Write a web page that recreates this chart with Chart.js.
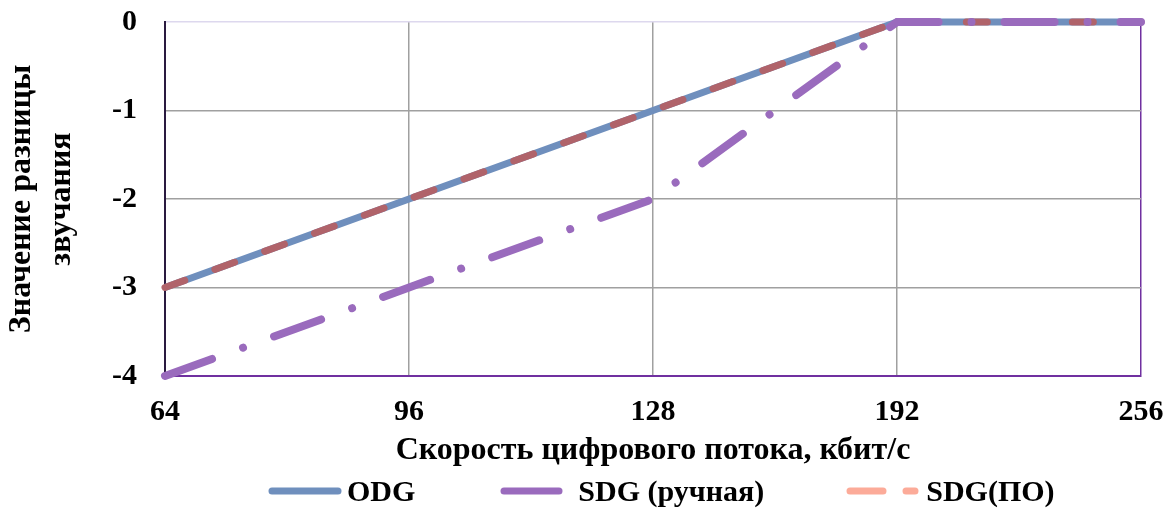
<!DOCTYPE html>
<html>
<head>
<meta charset="utf-8">
<script src="https://cdn.jsdelivr.net/npm/chart.js@4/dist/chart.umd.min.js"></script>
<style>
  html, body { margin: 0; padding: 0; background: #fff; }
  #wrap { position: relative; width: 1170px; height: 508px; }
  #legend { position: absolute; left: 268px; top: 474px; height: 34px; display: flex; align-items: center;
            font: bold 30px 'Liberation Serif', 'Times New Roman', serif; color: #000; }
  .item { display: flex; align-items: center; }
  .item svg { display: block; }
</style>
</head>
<body>
<div id="wrap">
  <canvas id="myChart" width="1170" height="508"></canvas>
  <div id="legend"></div>
</div>
<script>
// bitrates, kbit/s
var rates = ['64', '96', '128', '192', '256'];
var odg = [-3, -2, -1, 0, 0];
var sdgManual = [-4, -3, -2, 0, 0];
var sdgSoft = [-3, -2, -1, 0, 0];
var yTicks = [0, -1, -2, -3, -4];

var names = ['ODG', 'SDG (ручная)', 'SDG(ПО)'];
var lineColors = ['#6f8fbd', '#9a6bbd', '#b0636a'];
var legendColors = ['#6f8fbd', '#9a6bbd', '#fcab99'];

var font = { family: "'Liberation Serif', 'Times New Roman', serif", size: 30, weight: 'bold' };
var titleFont = { family: "'Liberation Serif', 'Times New Roman', serif", size: 32, weight: 'bold' };

var ctx = document.getElementById('myChart').getContext('2d');
var chart = new Chart(ctx, {
    type: 'line',
    data: {
        labels: rates,
        datasets: [{
            label: names[0],
            data: odg,
            borderColor: lineColors[0],
            borderWidth: 7,
            pointRadius: 0,
            fill: false,
            order: 3,
            clip: 8
        }, {
            label: names[1],
            data: sdgManual,
            borderColor: lineColors[1],
            borderWidth: 8,
            borderDash: [50, 33, 0.01, 33],
            borderCapStyle: 'round',
            pointRadius: 0,
            fill: false,
            order: 1,
            clip: 8
        }, {
            label: names[2],
            data: sdgSoft,
            borderColor: lineColors[2],
            borderWidth: 7,
            borderDash: [21, 32],
            borderCapStyle: 'round',
            pointRadius: 0,
            fill: false,
            order: 2,
            clip: 8
        }]
    },
    options: {
        responsive: false,
        animation: false,
        layout: { padding: { top: 22, right: 29, bottom: 38, left: 0 } },
        plugins: { legend: { display: false }, tooltip: { enabled: false } },
        scales: {
            x: {
                offset: false,
                afterFit: function(s) {
                    s.height = 94;
                    s.paddingLeft = 0; s.paddingRight = 0;
                },
                grid: {
                    drawTicks: false,
                    lineWidth: 1.5,
                    color: function(c) {
                        if (c.index === 0) return 'rgba(0,0,0,0)';
                        if (c.index === rates.length - 1) return '#7030a0';
                        return '#a0a0a0';
                    }
                },
                border: { color: '#7030a0', width: 2 },
                ticks: { color: '#000', font: font, padding: 18, maxRotation: 0, autoSkip: false },
                title: {
                    display: true,
                    text: 'Скорость цифрового потока, кбит/с',
                    color: '#000',
                    font: titleFont,
                    padding: { top: 0, bottom: 0 }
                }
            },
            y: {
                min: -4,
                max: 0,
                afterFit: function(s) {
                    s.width = 165;
                    s.paddingTop = 0; s.paddingBottom = 0;
                },
                afterBuildTicks: function(s) { s.ticks = yTicks.map(function(v) { return { value: v }; }); },
                grid: {
                    drawTicks: false,
                    lineWidth: 1.5,
                    color: function(c) {
                        if (c.tick && c.tick.value === 0) return '#ddd8ee';
                        return '#a0a0a0';
                    }
                },
                border: { color: '#2a1a40', width: 2 },
                ticks: { color: '#000', font: font, padding: 28 },
                title: {
                    display: true,
                    text: ['Значение разницы', 'звучания'],
                    color: '#000',
                    font: { family: titleFont.family, size: 32, weight: 'bold', lineHeight: 1.25 },
                    padding: { top: 2, bottom: 0 }
                }
            }
        }
    }
});

// legend below the chart, built from the series names
var sampleW = [74, 63, 73];
var textGap = [5, 15, 7];
var dashes = ['', '', '33 23'];
var legend = document.getElementById('legend');
names.forEach(function(n, i) {
    var item = document.createElement('div');
    item.className = 'item';
    if (i > 0) item.style.marginLeft = (i === 1 ? 85 : 82) + 'px';
    var w = sampleW[i];
    item.innerHTML = '<svg width="' + w + '" height="12"><line x1="4" y1="6" x2="' + (w - 4) + '" y2="6" stroke="' +
        legendColors[i] + '" stroke-width="7" stroke-linecap="round"' +
        (dashes[i] ? ' stroke-dasharray="' + dashes[i] + '"' : '') + '/></svg>' +
        '<span style="margin-left:' + textGap[i] + 'px">' + n + '</span>';
    legend.appendChild(item);
});
</script>
</body>
</html>
